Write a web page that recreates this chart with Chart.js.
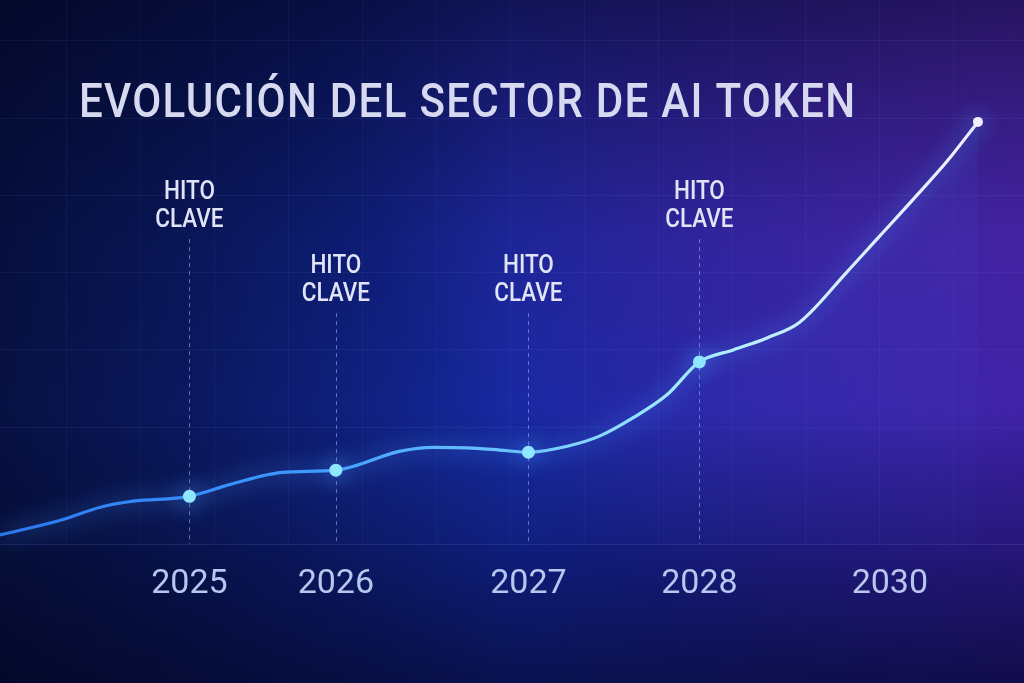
<!DOCTYPE html>
<html><head><meta charset="utf-8">
<script src="https://cdn.jsdelivr.net/npm/chart.js@4.4.1/dist/chart.umd.min.js"></script>
<style>html,body{margin:0;padding:0;background:#0a1560;overflow:hidden}#wrap{width:1024px;height:683px;position:relative}</style>
</head><body><div id="wrap"><canvas id="c"></canvas></div>
<script>
// ---- data ----
const titleText = 'EVOLUCIÓN DEL SECTOR DE AI TOKEN';
const tickLabels = ['2025', '2026', '2027', '2028', '2030'];
const tickPositions = [18.5, 32.8, 51.6, 68.3, 86.9];
const milestoneText = ['HITO', 'CLAVE'];
const milestoneIdx = [4, 7, 12, 17];
const milestoneLevels = [63.4, 49.8, 49.8, 63.4];
const timeline = [0, 5.9, 9.8, 13.0, 18.5, 22.5, 27.6, 32.8, 39.1, 42.3, 45.6, 48.8, 51.6, 55.4, 58.6, 61.8, 65.1, 68.3, 71.6, 74.9, 78.1, 82.7, 85.9, 89.2, 92.5, 95.5];
const values = [1.7, 4.4, 6.8, 7.9, 8.8, 11.0, 13.2, 13.6, 17.1, 17.8, 17.7, 17.3, 16.9, 18.0, 19.9, 23.2, 27.4, 33.5, 35.7, 37.9, 40.8, 50.0, 56.6, 63.4, 70.4, 77.6];

const points = timeline.map((x, i) => ({x, y: values[i]}));
const lastIdx = values.length - 1;

const bgPlugin = {
  id: 'bg',
  beforeDraw(chart) {
    const c = chart.ctx, W = chart.width, H = chart.height;
    c.save();
    let g = c.createLinearGradient(0, 0, W, 0);
    g.addColorStop(0, '#0a1a5c');
    g.addColorStop(0.5, '#1428a0');
    g.addColorStop(1, '#2a1a92');
    c.fillStyle = g; c.fillRect(0, 0, W, H);
    let r = c.createRadialGradient(W, 0, 0, W, 0, 700);
    r.addColorStop(0, 'rgba(120,55,225,0.65)');
    r.addColorStop(1, 'rgba(120,55,225,0)');
    c.fillStyle = r; c.fillRect(0, 0, W, H);
    g = c.createLinearGradient(0, 0, 0, H);
    g.addColorStop(0, 'rgba(2,4,30,0.6)');
    g.addColorStop(0.35, 'rgba(2,4,30,0.12)');
    g.addColorStop(0.6, 'rgba(2,4,30,0)');
    g.addColorStop(0.8, 'rgba(2,4,30,0.28)');
    g.addColorStop(1, 'rgba(2,4,30,0.62)');
    c.fillStyle = g; c.fillRect(0, 0, W, H);
    g = c.createLinearGradient(0, 0, W * 0.5, 0);
    g.addColorStop(0, 'rgba(0,0,20,0.35)');
    g.addColorStop(1, 'rgba(0,0,20,0)');
    c.fillStyle = g; c.fillRect(0, 0, W, H);
    c.restore();
  }
};

const titlePlugin = {
  id: 'bigTitle',
  afterDraw(chart) {
    const c = chart.ctx;
    c.save();
    c.font = '500 49px Roboto';
    c.fillStyle = '#d6d9f0';
    c.textBaseline = 'alphabetic';
    const sx = 0.86;
    c.letterSpacing = '0px';
    const w = c.measureText(titleText).width;
    const ls = (776 / sx - w) / (titleText.length - 1);
    c.letterSpacing = ls.toFixed(2) + 'px';
    c.translate(79, 117);
    c.scale(sx, 1);
    c.fillText(titleText, 0, 0);
    c.restore();
  }
};

const milestonePlugin = {
  id: 'milestones',
  beforeDatasetsDraw(chart) {
    const c = chart.ctx, xs = chart.scales.x, ys = chart.scales.y;
    c.save();
    c.strokeStyle = 'rgba(165,185,245,0.55)';
    c.lineWidth = 1;
    c.setLineDash([4, 4]);
    milestoneIdx.forEach((idx, k) => {
      const px = Math.round(xs.getPixelForValue(timeline[idx])) + 0.5;
      const top = ys.getPixelForValue(milestoneLevels[k]) + 40;
      c.beginPath(); c.moveTo(px, top); c.lineTo(px, ys.getPixelForValue(0)); c.stroke();
    });
    c.restore();
  },
  afterDatasetsDraw(chart) {
    const c = chart.ctx, xs = chart.scales.x, ys = chart.scales.y;
    c.save();
    c.font = '500 25px Roboto';
    c.fillStyle = '#e0e4f6';
    c.textAlign = 'center';
    c.textBaseline = 'alphabetic';
    milestoneIdx.forEach((idx, k) => {
      const px = xs.getPixelForValue(timeline[idx]);
      const base = ys.getPixelForValue(milestoneLevels[k]);
      c.save();
      c.translate(px, base);
      c.scale(0.9, 1);
      c.fillText(milestoneText[0], 0, 0);
      c.fillText(milestoneText[1], 0, 28);
      c.restore();
    });
    c.restore();
  }
};

const glowPlugin = {
  id: 'glow',
  beforeDatasetDraw(chart) {
    const c = chart.ctx;
    c.save();
    c.shadowColor = 'rgba(70,150,255,1)';
    c.shadowBlur = 22;
  },
  afterDatasetDraw(chart) {
    chart.ctx.restore();
  }
};

function lineGradient(ctx) {
  const chart = ctx.chart, a = chart.chartArea;
  if (!a) return '#4aa8ff';
  const g = chart.ctx.createLinearGradient(a.left, 0, a.right, 0);
  g.addColorStop(0, '#2a78f0');
  g.addColorStop(0.3, '#3d9bff');
  g.addColorStop(0.52, '#70caff');
  g.addColorStop(0.68, '#a8f0ff');
  g.addColorStop(0.8, '#cdeeff');
  g.addColorStop(0.96, '#f6efff');
  return g;
}
function fillGradient(ctx) {
  const chart = ctx.chart, a = chart.chartArea;
  if (!a) return 'rgba(40,100,255,0.1)';
  const g = chart.ctx.createLinearGradient(0, a.top, 0, a.bottom);
  g.addColorStop(0, 'rgba(60,110,255,0.10)');
  g.addColorStop(1, 'rgba(60,110,255,0.02)');
  return g;
}

new Chart(document.getElementById('c'), {
  type: 'line',
  data: {
    datasets: [{
      data: points,
      borderColor: lineGradient,
      borderWidth: 3.2,
      cubicInterpolationMode: 'monotone',
      fill: 'origin',
      backgroundColor: fillGradient,
      clip: false,
      pointRadius: ctx => milestoneIdx.includes(ctx.dataIndex) ? 6.5 : (ctx.dataIndex === lastIdx ? 5 : 0),
      pointBackgroundColor: ctx => ctx.dataIndex === lastIdx ? '#f3ecff' : '#8fe6ff',
      pointBorderWidth: 0,
      pointHoverRadius: 0
    }]
  },
  options: {
    responsive: true,
    maintainAspectRatio: false,
    animation: false,
    layout: { autoPadding: false, padding: { left: 0, right: 0, top: 0, bottom: 58 } },
    plugins: { legend: { display: false }, tooltip: { enabled: false }, title: { display: false } },
    scales: {
      x: {
        type: 'linear', min: 0, max: 100,
        grid: { display: false, drawTicks: false },
        border: { display: false },
        afterBuildTicks: axis => { axis.ticks = tickPositions.map(v => ({ value: v })); },
        ticks: {
          autoSkip: false, maxRotation: 0, padding: 20,
          color: '#b6c6ee',
          font: { family: 'Roboto', size: 34 },
          callback: (v, i) => tickLabels[i]
        }
      },
      xg: {
        type: 'linear', position: 'top', min: 0, max: 100,
        grid: { color: 'rgba(120,140,240,0.07)', drawTicks: false },
        border: { display: false },
        ticks: { display: false },
        afterBuildTicks: axis => { const t = []; for (let k = 0; k < 13; k++) t.push({ value: 6.5 + 7.22 * k }); axis.ticks = t; }
      },
      y: {
        type: 'linear', min: 0, max: 100,
        grid: { color: ctx => ctx.tick && ctx.tick.value === 0 ? 'rgba(120,140,240,0.16)' : 'rgba(120,140,240,0.09)', drawTicks: false },
        border: { display: false },
        ticks: { display: false },
        afterBuildTicks: axis => { const t = [{ value: 0 }]; for (let k = 0; k < 6; k++) t.push({ value: 21.5 + 14.2 * k }); axis.ticks = t; }
      }
    }
  },
  plugins: [bgPlugin, glowPlugin, milestonePlugin, titlePlugin]
});
</script>
</body></html>
